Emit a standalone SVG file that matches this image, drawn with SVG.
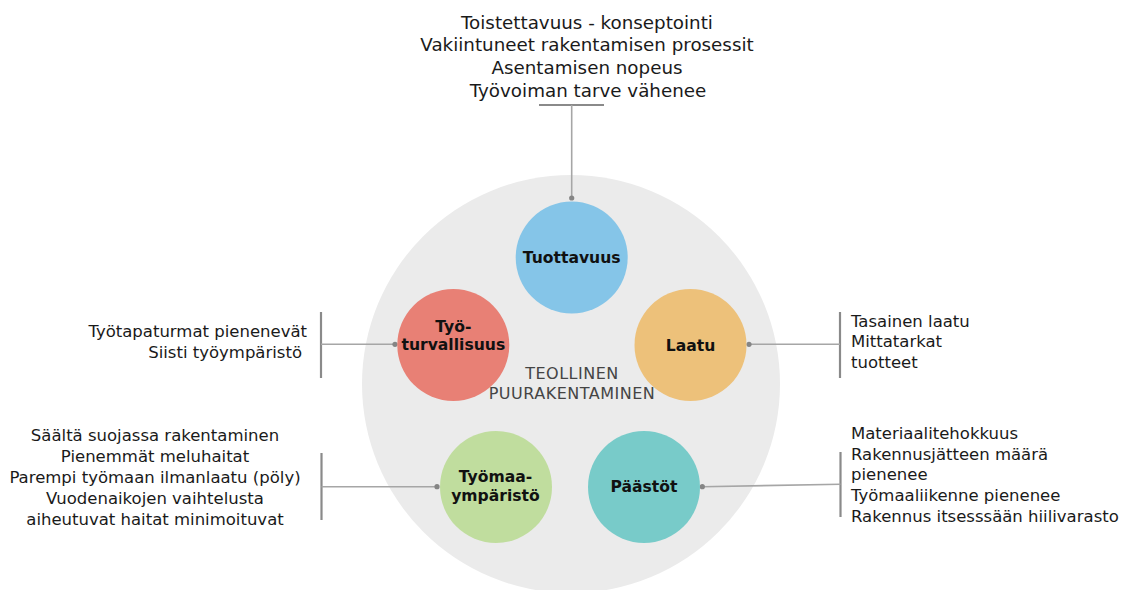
<svg xmlns="http://www.w3.org/2000/svg" width="1124" height="590" viewBox="0 0 1124 590">
<style>
.t{font-family:"DejaVu Sans","Liberation Sans",sans-serif;fill:#1a1a1a}
.top{font-size:18.3px;text-anchor:middle}
.side{font-size:16.5px}
.lbl{font-family:"DejaVu Sans","Liberation Sans",sans-serif;font-size:15.6px;font-weight:bold;fill:#111;text-anchor:middle}
.ctr{font-family:"DejaVu Sans","Liberation Sans",sans-serif;font-size:16px;letter-spacing:0.5px;fill:#444;text-anchor:middle}
.bar{stroke:#8a8a8a;stroke-width:2.2;fill:none}
.ln{stroke:#a6a6a6;stroke-width:1.6;fill:none}
.dot{fill:#858585}
</style>
<rect width="1124" height="590" fill="#fff"/>
<g id="background"><circle cx="571" cy="384" r="209" fill="#EBEBEB"/></g>
<g id="connectors">
<line class="bar" x1="539" y1="105" x2="604" y2="105"/>
<line class="ln" x1="571.7" y1="105" x2="571.7" y2="198"/>
<circle class="dot" cx="571.7" cy="198" r="2.6"/>
<line class="bar" x1="321" y1="312" x2="321" y2="378"/>
<line class="ln" x1="321" y1="344.3" x2="395" y2="344.3"/>
<circle class="dot" cx="395" cy="344.3" r="2.6"/>
<line class="bar" x1="840" y1="312" x2="840" y2="378"/>
<line class="ln" x1="749" y1="344.3" x2="840" y2="344.3"/>
<circle class="dot" cx="749" cy="344.3" r="2.6"/>
<line class="bar" x1="321.5" y1="453" x2="321.5" y2="520"/>
<line class="ln" x1="321.5" y1="486.7" x2="437" y2="486.7"/>
<circle class="dot" cx="437" cy="486.7" r="2.6"/>
<line class="bar" x1="840.5" y1="452" x2="840.5" y2="517"/>
<line class="ln" x1="702.3" y1="486.7" x2="840.5" y2="484.3"/>
<circle class="dot" cx="702.3" cy="486.7" r="2.6"/>
</g>
<g id="tuottavuus">
<circle cx="571.7" cy="257.5" r="56" fill="#85C5E8"/>
<text class="lbl" x="571.7" y="263">Tuottavuus</text>
</g>
<g id="tyoturvallisuus">
<circle cx="453.3" cy="345" r="56" fill="#E88075"/>
<text class="lbl" x="453.3" y="331.5">Työ-</text>
<text class="lbl" x="453.3" y="350">turvallisuus</text>
</g>
<g id="laatu">
<circle cx="690.5" cy="345" r="56" fill="#EDC17A"/>
<text class="lbl" x="690.5" y="350.5">Laatu</text>
</g>
<g id="tyomaa">
<circle cx="496" cy="487" r="56" fill="#C0DD9E"/>
<text class="lbl" x="495.5" y="482">Työmaa-</text>
<text class="lbl" x="495.5" y="501">ympäristö</text>
</g>
<g id="paastot">
<circle cx="644" cy="487" r="56" fill="#78CBC9"/>
<text class="lbl" x="644" y="492">Päästöt</text>
</g>
<g id="center-label">
<text class="ctr" x="572" y="379.3">TEOLLINEN</text>
<text class="ctr" x="572" y="399">PUURAKENTAMINEN</text>
</g>
<g id="top-text">
<text class="t top" x="587" y="28.5">Toistettavuus - konseptointi</text>
<text class="t top" x="587" y="51.3">Vakiintuneet rakentamisen prosessit</text>
<text class="t top" x="587" y="74">Asentamisen nopeus</text>
<text class="t top" x="588" y="96.8">Työvoiman tarve vähenee</text>
</g>
<g id="left-top-text">
<text class="t side" x="307" y="336.5" text-anchor="end">Työtapaturmat pienenevät</text>
<text class="t side" x="302" y="357.5" text-anchor="end">Siisti työympäristö</text>
</g>
<g id="right-top-text">
<text class="t side" x="851" y="326.7">Tasainen laatu</text>
<text class="t side" x="851" y="347.3">Mittatarkat</text>
<text class="t side" x="851" y="368">tuotteet</text>
</g>
<g id="left-bottom-text">
<text class="t side" x="155" y="441" text-anchor="middle">Säältä suojassa rakentaminen</text>
<text class="t side" x="155" y="462" text-anchor="middle">Pienemmät meluhaitat</text>
<text class="t side" x="155" y="483" text-anchor="middle">Parempi työmaan ilmanlaatu (pöly)</text>
<text class="t side" x="155" y="504" text-anchor="middle">Vuodenaikojen vaihtelusta</text>
<text class="t side" x="155" y="525" text-anchor="middle">aiheutuvat haitat minimoituvat</text>
</g>
<g id="right-bottom-text">
<text class="t side" x="851" y="439">Materiaalitehokkuus</text>
<text class="t side" x="851" y="459.7">Rakennusjätteen määrä</text>
<text class="t side" x="851" y="480.4">pienenee</text>
<text class="t side" x="851" y="501">Työmaaliikenne pienenee</text>
<text class="t side" x="851" y="521.7">Rakennus itsesssään hiilivarasto</text>
</g>
</svg>
